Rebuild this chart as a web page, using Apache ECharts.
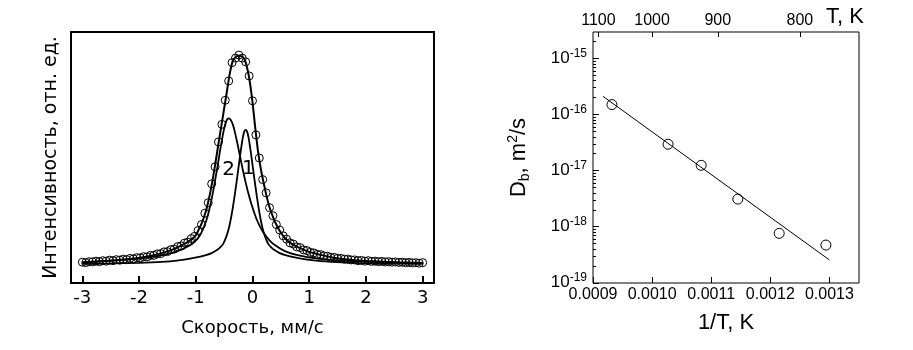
<!DOCTYPE html>
<html><head><meta charset="utf-8">
<script src="https://cdn.jsdelivr.net/npm/echarts@6/dist/echarts.min.js"></script>
<style>html,body{margin:0;padding:0;background:#fff}#c{width:913px;height:350px}</style>
</head><body><div id="c"></div>
<script>
// ---------- Left panel: Mössbauer spectrum ----------
const velTicks = [-3, -2, -1, 0, 1, 2, 3];
const pointVel = [-3.00,-2.94,-2.88,-2.82,-2.76,-2.70,-2.64,-2.58,-2.52,-2.46,
  -2.40,-2.34,-2.28,-2.22,-2.16,-2.10,-2.04,-1.98,-1.92,-1.86,
  -1.80,-1.74,-1.68,-1.62,-1.56,-1.50,-1.44,-1.38,-1.32,-1.26,
  -1.20,-1.14,-1.08,-1.02,-0.96,-0.90,-0.84,-0.78,-0.72,-0.66,
  -0.60,-0.54,-0.48,-0.42,-0.36,-0.30,-0.24,-0.18,-0.12,-0.06,
  0.00,0.06,0.12,0.18,0.24,0.30,0.36,0.42,0.48,0.54,
  0.60,0.66,0.72,0.78,0.84,0.90,0.96,1.02,1.08,1.14,
  1.20,1.26,1.32,1.38,1.44,1.50,1.56,1.62,1.68,1.74,
  1.80,1.86,1.92,1.98,2.04,2.10,2.16,2.22,2.28,2.34,
  2.40,2.46,2.52,2.58,2.64,2.70,2.76,2.82,2.88,2.94,3.00];
const pointInt = [8.3,8.1,8.5,8.4,8.7,8.5,8.9,8.7,9.1,8.9,
  9.3,9.1,9.5,9.3,9.8,9.6,10.1,10.0,10.5,10.4,
  11.0,11.0,11.6,11.7,12.4,12.5,13.3,13.5,14.5,14.8,
  15.9,16.3,17.7,18.6,20.9,23.3,27.8,32.0,39.5,46.3,
  56.2,63.2,72.8,80.5,87.8,89.6,90.8,89.6,88.1,82.5,
  72.6,59.0,49.8,41.2,35.9,30.0,26.8,23.3,21.1,18.8,
  17.5,16.0,15.5,14.4,14.1,13.2,12.9,12.2,12.0,11.4,
  11.3,10.8,10.7,10.2,10.2,9.8,9.8,9.5,9.5,9.2,
  9.2,8.9,9.0,8.7,8.9,8.6,8.7,8.5,8.6,8.4,
  8.5,8.3,8.4,8.2,8.3,8.1,8.2,8.0,8.1,7.9,8.1];
const fitVel = [-3.0,-2.8,-2.6,-2.4,-2.2,-2.0,-1.8,-1.6,-1.4,-1.2,-1.1,-1.0,
  -0.95,-0.9,-0.85,-0.8,-0.75,-0.7,-0.65,-0.6,-0.55,-0.5,-0.45,-0.4,-0.35,-0.3,-0.25,-0.2,-0.15,-0.1,-0.05,0.0,
  0.05,0.1,0.15,0.2,0.25,0.3,0.35,0.4,0.5,0.6,0.7,0.8,0.9,1.0,1.2,1.4,1.6,1.8,2.0,2.2,2.4,2.6,2.8,3.0];
const fitInt = [8.2,8.5,8.8,9.1,9.5,10.0,10.8,11.9,13.4,15.6,17.0,19.0,
  21.2,23.6,26.6,30.5,35.5,41.5,48.3,55.5,62.5,69.5,76.5,83.5,88.3,90.0,90.5,90.4,89.4,86.3,80.5,72.0,
  61.5,52.0,45.0,39.5,34.5,30.2,27.0,24.2,20.0,17.2,15.5,14.3,13.3,12.4,11.2,10.2,9.6,9.1,8.8,8.6,8.4,8.2,8.1,8.0];
const comp1Vel = [-3.0,-2.5,-2.0,-1.6,-1.3,-1.1,-0.92,-0.82,-0.72,-0.62,
  -0.57,-0.52,-0.47,-0.42,-0.37,-0.32,-0.295,-0.27,-0.245,-0.22,
  -0.195,-0.17,-0.145,-0.12,-0.095,-0.07,-0.045,-0.02,0.005,0.03,
  0.055,0.08,0.13,0.18,0.23,0.28,0.33,0.38,0.48,0.58,
  0.68,0.88,1.08,1.28,1.48,1.88,2.38,2.88,3.0];
const comp1Int = [7.65,7.8,8.05,8.45,9.05,9.7,10.5,11.1,11.9,13.2,
  14.2,15.5,18.0,21.5,27.0,34.0,38.0,42.0,46.3,50.5,
  54.5,58.0,60.3,61.0,60.3,58.0,54.5,50.5,46.3,42.0,
  38.0,34.0,27.0,21.5,18.0,15.5,14.2,13.2,11.9,11.1,
  10.5,9.6,9.0,8.6,8.3,7.95,7.75,7.65,7.6];
const comp2Vel = [-3.0,-2.42,-1.92,-1.62,-1.42,-1.22,-1.12,-1.02,-0.92,-0.82,
  -0.77,-0.72,-0.67,-0.62,-0.595,-0.57,-0.545,-0.52,-0.495,-0.47,
  -0.445,-0.42,-0.395,-0.37,-0.345,-0.32,-0.27,-0.22,-0.17,-0.12,
  -0.07,-0.02,0.08,0.18,0.28,0.38,0.58,0.78,1.08,1.58,
  2.08,2.58,3.0];
const comp2Int = [8.2,9.0,9.9,11.0,12.0,13.6,14.8,16.4,19.2,24.5,
  28.5,33.5,39.5,46.0,49.5,53.0,56.2,59.3,62.0,64.0,
  65.2,65.6,65.3,64.4,63.0,61.0,56.0,50.5,45.0,40.0,
  35.5,31.5,25.0,20.5,17.5,15.3,12.6,11.2,9.9,8.9,
  8.4,8.1,7.9];
const curveLabelVel = [-0.42, -0.075];
const curveLabelInt = [45, 45.4];
const curveLabelText = ['2', '1'];

// ---------- Right panel: Arrhenius plot ----------
const invTTicks = [0.0009, 0.0010, 0.0011, 0.0012, 0.0013];
const tempTicks = [1100, 1000, 900, 800];
const dbDecades = [1e-19, 1e-18, 1e-17, 1e-16, 1e-15];
const minorMult = [2, 3, 4, 5, 6, 7, 8, 9];
const invT = [0.000932, 0.001027, 0.001083, 0.001145, 0.001215, 0.001294];
const Db = [1.5e-16, 2.95e-17, 1.24e-17, 3.1e-18, 7.6e-19, 4.7e-19];
const fitInvT = [0.000917, 0.0013];
const fitDb = [2.1e-16, 2.55e-19];

const zip = (a, b) => a.map((v, i) => [v, b[i]]);
const minorTicks = [];
dbDecades.forEach(d => minorMult.forEach(m => minorTicks.push(m * d)));

const FL = 'DejaVu Sans';
const FR = 'Arial, "Liberation Sans", sans-serif';
const BLACK = '#000';
const yMinR = 0.99e-19, yMaxR = 2.95e-15;

const chart = echarts.init(document.getElementById('c'), null, {renderer: 'canvas'});
chart.setOption({
  animation: false,
  backgroundColor: '#fff',
  textStyle: {fontFamily: FR, color: BLACK},
  grid: [
    {left: 71, right: 479, top: 32, bottom: 67, show: true, borderColor: BLACK, borderWidth: 2, backgroundColor: 'transparent', outerBoundsMode: 'none'},
    {left: 593, right: 54, top: 32, bottom: 67, show: true, borderColor: BLACK, borderWidth: 1, backgroundColor: 'transparent', outerBoundsMode: 'none'}
  ],
  xAxis: [
    {gridIndex: 0, type: 'value', min: -3.2, max: 3.2,
     name: 'Скорость, мм/с', nameLocation: 'middle', nameGap: 36,
     nameTextStyle: {fontFamily: FL, fontSize: 18, color: BLACK},
     axisLine: {show: false, onZero: false}, splitLine: {show: false},
     axisTick: {show: true, inside: true, length: 7, lineStyle: {color: BLACK, width: 2}, customValues: velTicks},
     axisLabel: {customValues: velTicks, fontFamily: FL, fontSize: 18, color: BLACK, margin: 6, formatter: v => String(v)}},
    {gridIndex: 1, type: 'value', min: 0.0009, max: 0.00135, position: 'bottom',
     name: '1/T, K', nameLocation: 'middle', nameGap: 29,
     nameTextStyle: {fontFamily: FR, fontSize: 22, color: BLACK},
     axisLine: {show: false, onZero: false}, splitLine: {show: false},
     axisTick: {show: true, inside: true, length: 6, lineStyle: {color: BLACK, width: 1}, customValues: invTTicks},
     axisLabel: {customValues: invTTicks, fontFamily: FR, fontSize: 16, color: BLACK, margin: 4, formatter: v => v.toFixed(4)}},
    {gridIndex: 1, type: 'value', min: 0.0009, max: 0.00135, position: 'top',
     axisLine: {show: false, onZero: false}, splitLine: {show: false},
     axisTick: {show: true, inside: true, length: 5, lineStyle: {color: BLACK, width: 1}, customValues: tempTicks.map(t => 1 / t)},
     axisLabel: {customValues: tempTicks.map(t => 1 / t), fontFamily: FR, fontSize: 16, color: BLACK, margin: 3, formatter: v => String(Math.round(1 / v))}}
  ],
  yAxis: [
    {gridIndex: 0, type: 'value', min: 0, max: 100,
     name: 'Интенсивность, отн. ед.', nameLocation: 'middle', nameGap: 10,
     nameTextStyle: {fontFamily: FL, fontSize: 19, color: BLACK},
     axisLine: {show: false, onZero: false}, axisTick: {show: false}, axisLabel: {show: false}, splitLine: {show: false}},
    {gridIndex: 1, type: 'log', logBase: 10, min: yMinR, max: yMaxR, position: 'left',
     name: '{n|D}{sub|b}{n|, m}{sup|2}{n|/s}', nameLocation: 'middle', nameGap: 61,
     nameTextStyle: {fontFamily: FR, fontSize: 22, color: BLACK, rich: {
       n: {fontFamily: FR, fontSize: 22, lineHeight: 26, color: BLACK},
       sub: {fontFamily: FR, fontSize: 14, lineHeight: 14, verticalAlign: 'bottom', color: BLACK},
       sup: {fontFamily: FR, fontSize: 14, lineHeight: 14, verticalAlign: 'top', color: BLACK}}},
     axisLine: {show: false, onZero: false}, splitLine: {show: false}, minorTick: {show: false},
     axisTick: {show: true, inside: true, length: 6, lineStyle: {color: BLACK, width: 1}, customValues: dbDecades},
     axisLabel: {customValues: dbDecades, margin: 6, color: BLACK,
       formatter: v => '{b|10}{s|' + Math.round(Math.log10(v)) + '}',
       rich: {b: {fontFamily: FR, fontSize: 17, lineHeight: 22, color: BLACK},
              s: {fontFamily: FR, fontSize: 12, lineHeight: 12, verticalAlign: 'top', color: BLACK}}}},
    {gridIndex: 1, type: 'log', logBase: 10, min: yMinR, max: yMaxR, position: 'left', offset: 0,
     axisLine: {show: false, onZero: false}, splitLine: {show: false}, axisLabel: {show: false},
     axisTick: {show: true, inside: true, length: 3, lineStyle: {color: BLACK, width: 1}, customValues: minorTicks}}
  ],
  graphic: [
    {type: 'text', left: 826, top: 6, style: {text: 'T, K', font: '22px Arial, "Liberation Sans", sans-serif', fill: BLACK}}
  ],
  series: [
    {type: 'line', xAxisIndex: 0, yAxisIndex: 0, data: zip(comp2Vel, comp2Int), showSymbol: false, symbol: 'none',
     smooth: 0.3, lineStyle: {color: BLACK, width: 1.8}, z: 2},
    {type: 'line', xAxisIndex: 0, yAxisIndex: 0, data: zip(comp1Vel, comp1Int), showSymbol: false, symbol: 'none',
     smooth: 0.3, lineStyle: {color: BLACK, width: 1.8}, z: 2},
    {type: 'line', xAxisIndex: 0, yAxisIndex: 0, data: zip(fitVel, fitInt), showSymbol: false, symbol: 'none',
     smooth: 0.3, lineStyle: {color: BLACK, width: 2}, z: 2},
    {type: 'scatter', xAxisIndex: 0, yAxisIndex: 0, data: zip(pointVel, pointInt), symbol: 'circle', symbolSize: 8,
     itemStyle: {color: 'rgba(0,0,0,0)', borderColor: BLACK, borderWidth: 1, opacity: 1}, z: 3, silent: true},
    {type: 'scatter', xAxisIndex: 0, yAxisIndex: 0, symbolSize: 0, silent: true, z: 4,
     itemStyle: {color: 'rgba(0,0,0,0)', opacity: 1},
     data: curveLabelVel.map((v, i) => [v, curveLabelInt[i], curveLabelText[i]]),
     label: {show: true, position: 'inside', formatter: p => p.data[2], fontFamily: FL, fontSize: 20,
             color: BLACK, opacity: 1, textBorderWidth: 0, textBorderColor: 'transparent'}},
    {type: 'line', xAxisIndex: 1, yAxisIndex: 1, data: zip(fitInvT, fitDb), showSymbol: false, symbol: 'none',
     lineStyle: {color: BLACK, width: 1}, z: 2},
    {type: 'scatter', xAxisIndex: 1, yAxisIndex: 1, data: zip(invT, Db), symbol: 'circle', symbolSize: 10,
     itemStyle: {color: 'rgba(0,0,0,0)', borderColor: BLACK, borderWidth: 1, opacity: 1}, z: 3, silent: true}
  ]
});
</script>
</body></html>
